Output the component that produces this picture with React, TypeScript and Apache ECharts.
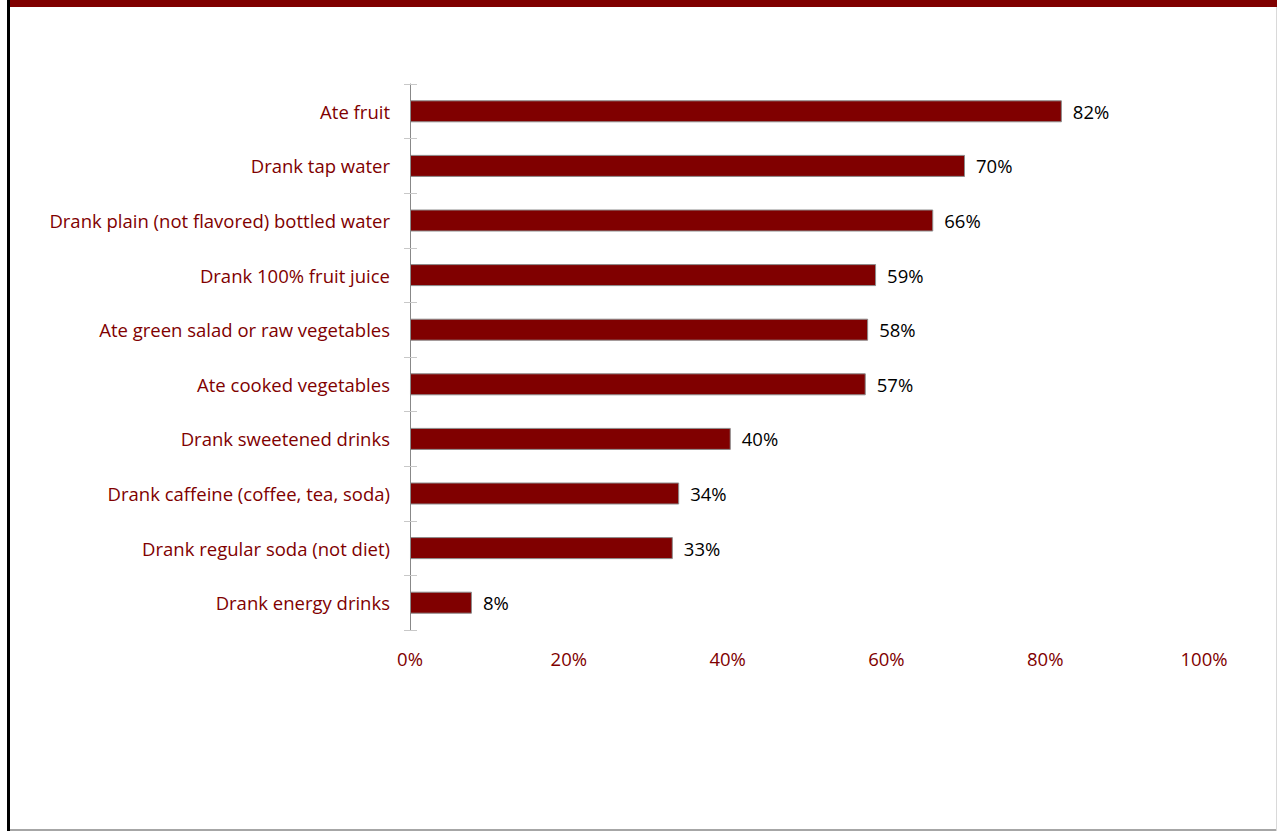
import React, { useEffect, useRef } from "react";
import * as echarts from "echarts";

const categories = [
  "Ate fruit",
  "Drank tap water",
  "Drank plain (not flavored) bottled water",
  "Drank 100% fruit juice",
  "Ate green salad or raw vegetables",
  "Ate cooked vegetables",
  "Drank sweetened drinks",
  "Drank caffeine (coffee, tea, soda)",
  "Drank regular soda (not diet)",
  "Drank energy drinks",
];
const values = [82.1, 69.9, 65.9, 58.7, 57.7, 57.4, 40.4, 33.9, 33.1, 7.8];
const xTicks = [0, 20, 40, 60, 80, 100];

const RED = "#800000";
const FONT = "'Open Sans', sans-serif";
const FS = 18.5;

export default function App() {
  const ref = useRef<HTMLDivElement>(null);
  useEffect(() => {
    document.body.style.margin = "0";
    const chart = echarts.init(ref.current!, null, { renderer: "svg" });
    const cats = [...categories].reverse();
    const vals = [...values].reverse();
    chart.setOption({
      animation: false,
      backgroundColor: "#ffffff",
      graphic: [
        { type: "rect", shape: { x: 10, y: 0, width: 1267, height: 7 }, style: { fill: RED } },
        { type: "rect", shape: { x: 7, y: 0, width: 3, height: 831 }, style: { fill: "#000" } },
        { type: "rect", shape: { x: 10, y: 829, width: 1267, height: 2 }, style: { fill: "#a6a6a6" } },
        { type: "rect", shape: { x: 1276, y: 7, width: 1, height: 824 }, style: { fill: "#d9d9d9" } },
      ],
      grid: { left: 410, right: 73, top: 84, bottom: 201, containLabel: false },
      xAxis: {
        type: "value",
        min: 0,
        max: 100,
        interval: 20,
        axisLine: { show: false },
        axisTick: { show: false },
        splitLine: { show: false },
        axisLabel: {
          margin: 19,
          color: RED,
          fontFamily: FONT,
          fontSize: FS,
          formatter: (v: number) => (xTicks.includes(v) ? v + "%" : ""),
        },
      },
      yAxis: [
        {
          type: "category",
          data: cats,
          axisLine: { show: true, lineStyle: { color: "#888888", width: 1 } },
          axisTick: { show: true, length: 6, lineStyle: { color: "#c8c8c8" } },
          axisLabel: { margin: 20, color: RED, fontFamily: FONT, fontSize: FS },
        },
        {
          type: "category",
          data: cats,
          position: "left",
          axisLine: { show: false },
          axisTick: { show: true, inside: true, length: 7, lineStyle: { color: "#c8c8c8" } },
          axisLabel: { show: false },
        },
      ],
      series: [
        {
          type: "bar",
          data: vals,
          yAxisIndex: 0,
          barWidth: 22,
          itemStyle: { color: RED, borderColor: "#8c8c8c", borderWidth: 1 },
          label: {
            show: true,
            position: "right",
            distance: 11,
            color: "#000",
            fontFamily: FONT,
            fontSize: FS,
            formatter: (p: any) => Math.round(p.value) + "%",
          },
        },
      ],
    });
    return () => chart.dispose();
  }, []);
  return <div ref={ref} style={{ width: 1277, height: 831 }} />;
}
